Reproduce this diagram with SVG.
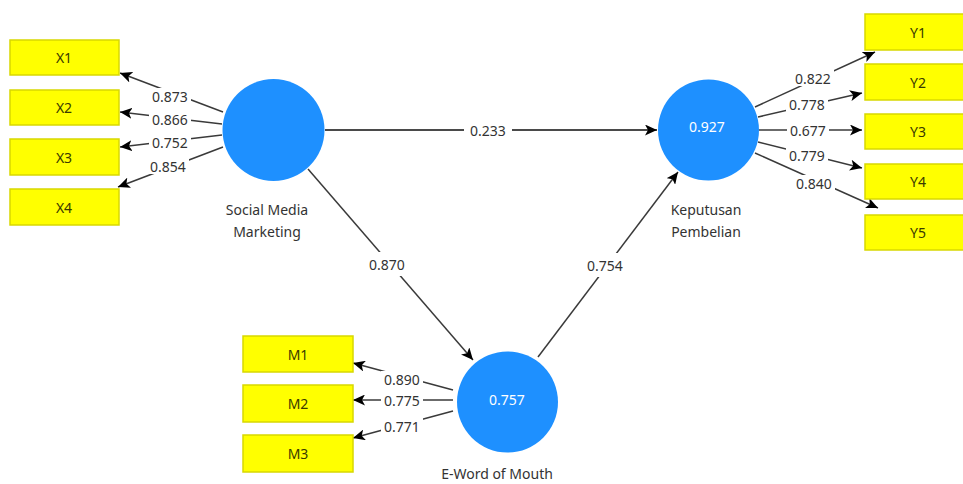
<svg xmlns="http://www.w3.org/2000/svg" width="963" height="484" viewBox="0 0 963 484">
<style>
.ind{fill:#FFFF00;stroke:#D8D800;stroke-width:1.5}
.it{font-family:"Noto Sans",sans-serif;font-size:14px;fill:#3a3a00;text-anchor:middle;dominant-baseline:central}
.lv{fill:#1E90FF}
.lt{font-family:"Noto Sans",sans-serif;font-size:14px;fill:#333;text-anchor:middle}
.vt{font-family:"Noto Sans",sans-serif;font-size:14px;fill:#ffffff;text-anchor:middle;dominant-baseline:central}
.ln{stroke:#3a3a3a;stroke-width:1.5;fill:none;marker-end:url(#ah)}
.st{stroke:#4a4a4a;stroke-width:2;fill:none;marker-end:url(#ah)}
.lb{fill:#ffffff}
.nt{font-family:"Noto Sans",sans-serif;font-size:14px;fill:#333;text-anchor:middle;dominant-baseline:central}
</style>
<defs>
<marker id="ah" markerUnits="userSpaceOnUse" markerWidth="13" markerHeight="11" refX="12" refY="5.5" orient="auto">
<path d="M0,0 L12,5.5 L0,11 L3,5.5 Z" fill="#000"/>
</marker>
</defs>
<rect width="963" height="484" fill="#ffffff"/>
<g id="connectors">
<line class="ln" x1="223" y1="112" x2="120" y2="73"/>
<line class="ln" x1="222" y1="124" x2="120" y2="112"/>
<line class="ln" x1="222" y1="135" x2="120" y2="147"/>
<line class="ln" x1="223" y1="147" x2="118" y2="187"/>
<line class="ln" x1="755" y1="107" x2="875" y2="52"/>
<line class="ln" x1="758" y1="117" x2="862" y2="93"/>
<line class="ln" x1="759" y1="130" x2="862" y2="130"/>
<line class="ln" x1="758" y1="142" x2="862" y2="168"/>
<line class="ln" x1="755" y1="153" x2="878" y2="208"/>
<line class="ln" x1="453" y1="390" x2="353" y2="363"/>
<line class="ln" x1="453" y1="400" x2="353" y2="400"/>
<line class="ln" x1="453" y1="411" x2="353" y2="438"/>
<line class="st" x1="325" y1="130" x2="657" y2="130"/>
<line class="ln" x1="308" y1="169" x2="473" y2="360"/>
<line class="ln" x1="538" y1="357" x2="678" y2="172"/>
<rect class="lb" x="149" y="88" width="42" height="16"/><text class="nt" x="170" y="96">0.873</text>
<rect class="lb" x="149" y="111" width="42" height="16"/><text class="nt" x="170" y="119">0.866</text>
<rect class="lb" x="149" y="134" width="42" height="16"/><text class="nt" x="170" y="142">0.752</text>
<rect class="lb" x="147" y="158" width="42" height="16"/><text class="nt" x="168" y="166">0.854</text>
<rect class="lb" x="792" y="70" width="42" height="16"/><text class="nt" x="813" y="78">0.822</text>
<rect class="lb" x="786" y="96" width="42" height="16"/><text class="nt" x="807" y="104">0.778</text>
<rect class="lb" x="787" y="122" width="42" height="16"/><text class="nt" x="808" y="130">0.677</text>
<rect class="lb" x="786" y="147" width="42" height="16"/><text class="nt" x="807" y="155">0.779</text>
<rect class="lb" x="793" y="175" width="42" height="16"/><text class="nt" x="814" y="183">0.840</text>
<rect class="lb" x="381" y="371" width="42" height="16"/><text class="nt" x="402" y="379">0.890</text>
<rect class="lb" x="381" y="392" width="42" height="16"/><text class="nt" x="402" y="400">0.775</text>
<rect class="lb" x="381" y="418" width="42" height="16"/><text class="nt" x="402" y="426">0.771</text>
<rect class="lb" x="464" y="121" width="48" height="18"/><text class="nt" x="488" y="130">0.233</text>
<rect class="lb" x="364" y="252" width="46" height="24"/><text class="nt" x="387" y="264">0.870</text>
<rect class="lb" x="582" y="253" width="46" height="24"/><text class="nt" x="605" y="265">0.754</text>
</g>
<g id="X1"><rect class="ind" x="10" y="40" width="109" height="35"/><text class="it" x="64" y="57.5">X1</text></g>
<g id="X2"><rect class="ind" x="10" y="90" width="109" height="35"/><text class="it" x="64" y="107.5">X2</text></g>
<g id="X3"><rect class="ind" x="10" y="139" width="109" height="36"/><text class="it" x="64" y="157">X3</text></g>
<g id="X4"><rect class="ind" x="10" y="189" width="109" height="36"/><text class="it" x="64" y="207">X4</text></g>
<g id="Y1"><rect class="ind" x="865" y="14" width="100" height="36"/><text class="it" x="918" y="32">Y1</text></g>
<g id="Y2"><rect class="ind" x="865" y="64" width="100" height="36"/><text class="it" x="918" y="82">Y2</text></g>
<g id="Y3"><rect class="ind" x="865" y="114" width="100" height="35"/><text class="it" x="918" y="131.5">Y3</text></g>
<g id="Y4"><rect class="ind" x="865" y="164" width="100" height="35"/><text class="it" x="918" y="181.5">Y4</text></g>
<g id="Y5"><rect class="ind" x="865" y="215" width="100" height="35"/><text class="it" x="918" y="232.5">Y5</text></g>
<g id="M1"><rect class="ind" x="243" y="336" width="110" height="36"/><text class="it" x="298" y="354">M1</text></g>
<g id="M2"><rect class="ind" x="243" y="385" width="110" height="37"/><text class="it" x="298" y="403.5">M2</text></g>
<g id="M3"><rect class="ind" x="243" y="435" width="110" height="37"/><text class="it" x="298" y="453.5">M3</text></g>
<g id="SMM"><circle class="lv" cx="273.5" cy="130" r="51"/><text class="lt" x="267" y="215">Social Media</text><text class="lt" x="267" y="237">Marketing</text></g>
<g id="KP"><circle class="lv" cx="708.5" cy="130" r="50.5"/><text class="vt" x="707" y="126">0.927</text><text class="lt" x="706" y="215">Keputusan</text><text class="lt" x="706" y="237">Pembelian</text></g>
<g id="EWOM"><circle class="lv" cx="507.5" cy="402" r="50.5"/><text class="vt" x="507" y="399">0.757</text><text class="lt" x="497" y="479">E-Word of Mouth</text></g>
</svg>
